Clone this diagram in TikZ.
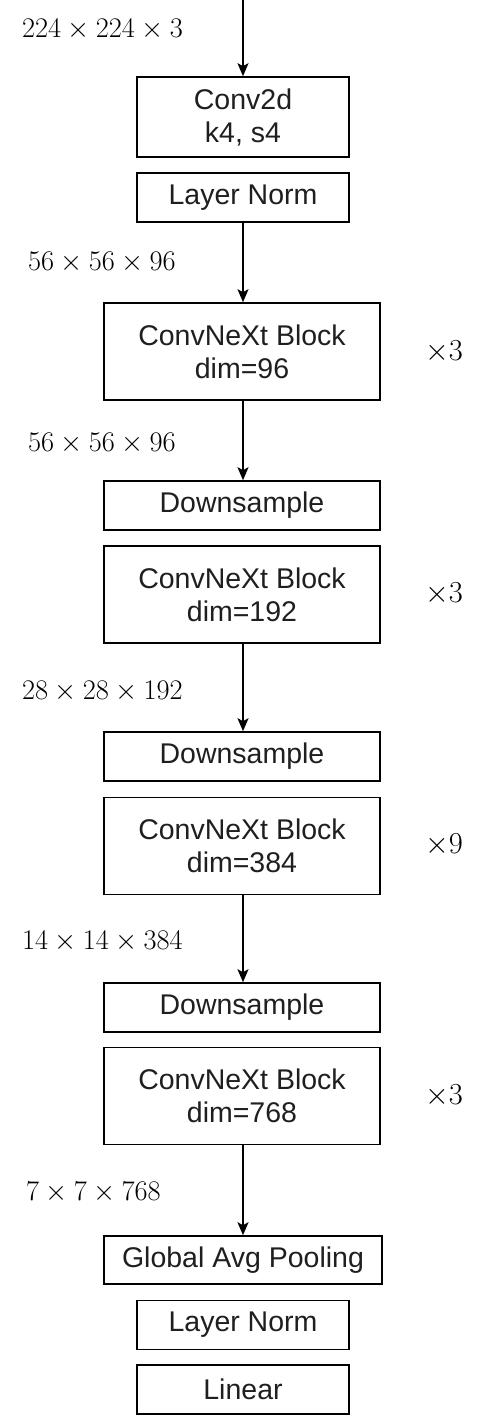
\RequirePackage{fix-cm}
\documentclass[tikz,border=0pt]{standalone}
\usepackage{fontspec}
\setmainfont{Latin Modern Roman}
\newfontfamily\boxfont{Liberation Sans}
\usetikzlibrary{arrows.meta}
\begin{document}
\begin{tikzpicture}[x=1pt,y=-1pt,
  blk/.style={draw, line width=1.6pt, minimum width=#1, inner sep=0pt, align=center,
    font=\boxfont\fontsize{28.5}{33}\selectfont, text=black!88},
  blk/.default=276pt,
  dimlbl/.style={anchor=west, inner sep=0pt, font=\fontsize{28.4}{30}\selectfont},
  replbl/.style={anchor=west, inner sep=0pt, font=\fontsize{30.5}{32}\selectfont},
  flow/.style={line width=1.6pt, -{Stealth[length=13pt,width=11pt,inset=3pt]}}]
\useasboundingbox (0,0) rectangle (484,1424);
\fill[white] (0,0) rectangle (484,1424);
\coordinate (in) at (243,0);
\node[blk=212pt, minimum height=80pt] (conv) at (243,117) {Conv2d\\k4, s4};
\node[blk=212pt, minimum height=49pt] (ln1) at (243,197.5) {Layer Norm};
\node[blk, minimum height=97pt] (b1) at (242,351.5) {ConvNeXt Block\\dim=96};
\node[blk, minimum height=49pt] (d1) at (242,505.5) {Downsample};
\node[blk, minimum height=97pt] (b2) at (242,594.5) {ConvNeXt Block\\dim=192};
\node[blk, minimum height=49pt] (d2) at (242,756.5) {Downsample};
\node[blk, minimum height=97pt] (b3) at (242,846) {ConvNeXt Block\\dim=384};
\node[blk, minimum height=49pt] (d3) at (242,1007.5) {Downsample};
\node[blk, minimum height=97pt] (b4) at (242,1096) {ConvNeXt Block\\dim=768};
\node[blk=278pt, minimum height=48pt] (gap) at (243,1260) {Global Avg Pooling};
\node[blk=212pt, minimum height=49pt] (ln2) at (243,1325) {Layer Norm};
\node[blk=212pt, minimum height=49pt] (lin) at (243,1389.5) {Linear};

\node[dimlbl] (l0) at (22,30) {$224\times224\times3$};
\node[dimlbl] (l1) at (28,263) {$56\times56\times96$};
\node[dimlbl] (l2) at (28,444) {$56\times56\times96$};
\node[dimlbl] (l3) at (22,692) {$28\times28\times192$};
\node[dimlbl] (l4) at (22,942) {$14\times14\times384$};
\node[dimlbl] (l5) at (26,1193) {$7\times7\times768$};

\node[replbl] (r1) at (425,352) {$\times3$};
\node[replbl] (r2) at (425,594) {$\times3$};
\node[replbl] (r3) at (425,845) {$\times9$};
\node[replbl] (r4) at (425,1096) {$\times3$};

\draw[flow] (in) -- (conv.north);
\draw[flow] (ln1.south) -- (ln1.south |- b1.north);
\draw[flow] (b1.south -| ln1.south) -- (ln1.south |- d1.north);
\draw[flow] (b2.south -| ln1.south) -- (ln1.south |- d2.north);
\draw[flow] (b3.south -| ln1.south) -- (ln1.south |- d3.north);
\draw[flow] (b4.south -| ln1.south) -- (gap.north);
\end{tikzpicture}
\end{document}
